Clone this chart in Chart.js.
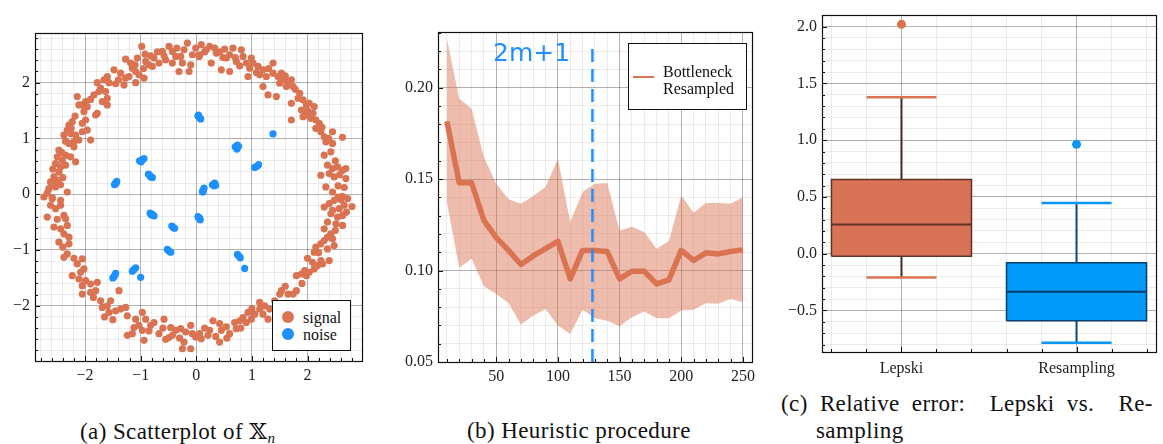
<!DOCTYPE html>
<html>
<head>
<meta charset="utf-8">
<script src="https://cdn.jsdelivr.net/npm/chart.js@4/dist/chart.umd.min.js"></script>
<style>
body { margin: 0; background: #fff; width: 1163px; height: 444px; position: relative; overflow: hidden; font-family: 'Liberation Serif', serif; color: #111; }
canvas { position: absolute; top: 0; display: block; }
.legend { position: absolute; box-sizing: border-box; background: #fff; border: 1.3px solid #111; font-size: 16px; }
.legend span { position: absolute; line-height: 16px; white-space: nowrap; }
.dot { position: absolute; width: 12px; height: 12px; border-radius: 50%; }
.cap { position: absolute; font-size: 23px; line-height: 26px; white-space: nowrap; letter-spacing: 0.4px; }
</style>
</head>
<body>
<canvas id="chartA" width="370" height="385" style="left:0"></canvas>
<canvas id="chartB" width="380" height="385" style="left:380px"></canvas>
<canvas id="chartC" width="393" height="385" style="left:770px"></canvas>

<div class="legend" style="left:272px;top:300px;width:79px;height:51px">
  <div class="dot" style="left:9px;top:10px;background:#D97352"></div><span style="left:30px;top:9px">signal</span>
  <div class="dot" style="left:9px;top:27px;background:#1E90FF"></div><span style="left:30px;top:26px">noise</span>
</div>
<div class="legend" style="left:628px;top:43px;width:119px;height:67px">
  <div style="position:absolute;left:4px;top:32px;width:21px;height:1.5px;background:#D97352"></div>
  <span style="left:34px;top:20px">Bottleneck</span>
  <span style="left:34px;top:37px">Resampled</span>
</div>
<div style="position:absolute;left:493px;top:40px;font-family:'DejaVu Sans',sans-serif;font-size:25px;line-height:25px;color:#1E90FF">2m+1</div>

<div class="cap" style="left:80px;top:418px">(a) Scatterplot of <span style="font-family:'DejaVu Serif','DejaVu Sans',serif">𝕏</span><span style="font-size:15px;position:relative;top:4px"><i>n</i></span></div>
<div class="cap" style="left:467px;top:418px">(b) Heuristic procedure</div>
<div class="cap" style="left:781px;top:391px;word-spacing:6px">(c) Relative error:&nbsp; Lepski vs.&nbsp; Re-</div>
<div class="cap" style="left:816px;top:418px">sampling</div>

<script>
// ---------- (a) scatterplot of X_n ----------
const signalPts = [
  [-0.98,2.65],[-1.27,2.42],[-1.06,2.44],[-0.92,2.51],[-0.82,2.48],[-0.76,2.44],[-0.91,2.38],[-0.85,2.32],[-1.10,2.32],[-1.15,2.26],
  [-1.09,2.20],[-1.03,2.14],[-1.21,2.11],[-1.27,2.08],[-0.94,2.08],[-1.09,2.00],[-1.30,1.96],[-1.45,1.98],[-1.48,2.23],[-1.60,2.11],
  [-1.66,2.05],[-1.57,2.00],[-1.78,2.00],[-0.61,2.56],[-0.49,2.65],[-0.43,2.56],[-0.55,2.41],[-0.43,2.35],[-0.31,2.20],[-0.37,2.47],
  [-0.28,2.47],[-0.22,2.59],[-0.16,2.71],[-0.07,2.50],[-0.01,2.62],[-0.13,2.20],[-0.10,2.32],[0.05,2.47],[-0.79,2.29],[-0.67,2.35],
  [-1.36,2.17],[-2.14,1.75],[-1.84,1.78],[-1.75,1.84],[-1.63,1.84],[-1.60,1.72],[-1.69,1.66],[-1.60,1.60],[-1.78,1.45],[-1.81,1.42],
  [-1.99,1.66],[-2.05,1.60],[-2.11,1.60],[-1.96,1.57],[-2.02,1.48],[-2.23,1.30],[-2.29,1.24],[-2.32,1.15],[-2.38,1.06],[-2.26,1.09],
  [-2.17,1.06],[-2.05,1.12],[-1.99,1.33],[-2.05,1.27],[-1.96,1.15],[-1.90,0.97],[-2.11,0.97],[-2.20,0.94],[-2.29,0.91],[-2.20,0.85],
  [-2.47,0.79],[-2.50,0.67],[-2.35,0.70],[-2.26,0.67],[-2.17,0.58],[-2.41,0.61],[-2.53,0.55],[-2.44,0.49],[-2.35,0.52],[-2.47,0.40],
  [-2.56,0.31],[-2.50,0.25],[-2.62,0.22],[-2.44,0.17],[-2.53,0.13],[-2.65,0.10],[-2.59,0.17],[-2.32,0.04],[-2.74,-0.05],[-2.59,-0.06],
  [-0.70,2.55],[-0.58,2.48],[-0.35,2.62],[-0.25,2.35],[-0.95,2.25],[-1.18,2.35],[-1.40,2.05],[-1.72,1.90],[-1.90,1.70],[-2.18,1.40],
  [-2.25,1.18],[-2.35,0.95],[-2.42,0.75],[-2.58,0.45],[-2.40,0.30],[-2.68,0.02],
  [0.09,2.68],[0.06,2.50],[0.18,2.59],[0.33,2.62],[0.36,2.53],[0.51,2.60],[0.66,2.62],[0.60,2.50],[0.54,2.44],[0.27,2.35],
  [0.45,2.23],[0.60,2.20],[0.72,2.38],[0.81,2.59],[0.84,2.47],[0.99,2.44],[0.90,2.35],[0.96,2.26],[0.93,2.11],[1.11,2.29],
  [1.20,2.23],[1.14,2.14],[1.26,2.11],[1.38,2.35],[1.38,2.17],[1.47,2.11],[1.53,2.17],[1.56,2.05],[1.65,2.02],[1.71,2.05],
  [1.74,1.93],[1.62,1.93],[1.50,1.99],[1.20,1.93],[1.29,1.78],[1.44,1.75],[1.71,1.63],[1.86,1.81],[1.92,1.69],[1.98,1.60],
  [1.89,1.51],[2.03,1.63],[2.12,1.57],[1.92,1.39],[1.98,1.42],[2.06,1.36],[1.71,1.33],[2.15,1.33],[2.21,1.27],[2.15,1.18],
  [2.24,1.12],[2.30,1.03],[2.45,1.12],[2.63,1.02],[2.33,0.94],[2.45,0.91],[2.42,0.76],[2.30,0.70],[2.36,0.52],[2.45,0.46],
  [2.54,0.49],[2.63,0.43],[2.69,0.46],[2.24,0.34],[2.39,0.37],[2.48,0.31],[2.69,0.28],[2.33,0.13],[2.45,0.04],[2.66,0.12],
  [2.63,-0.04],
  [0.15,2.55],[0.24,2.65],[0.42,2.55],[0.48,2.45],[0.70,2.45],[0.78,2.30],[1.02,2.35],[1.08,2.18],[1.30,2.25],[1.60,2.12],
  [1.78,1.88],[1.83,1.72],[2.00,1.50],[2.10,1.45],[2.26,1.20],[2.38,1.00],[2.50,0.60],[2.58,0.35],[2.55,0.15],[2.60,-0.10],
  [-2.59,-0.08],[-2.44,-0.11],[-2.62,-0.20],[-2.53,-0.26],[-2.68,-0.41],[-2.44,-0.20],[-2.38,-0.38],[-2.35,-0.44],[-2.56,-0.59],
  [-2.44,-0.62],[-2.32,-0.56],[-2.38,-0.71],[-2.29,-0.77],[-2.47,-0.86],[-2.29,-0.89],[-2.32,-1.07],[-2.38,-1.13],[-2.05,-1.16],
  [-2.14,-1.25],[-2.02,-1.34],[-2.23,-1.46],[-2.11,-1.52],[-1.99,-1.55],[-2.05,-1.64],[-1.90,-1.61],[-1.78,-1.58],[-1.81,-1.73],
  [-1.90,-1.76],[-2.05,-1.79],[-1.72,-1.91],[-1.69,-2.03],[-1.60,-2.00],[-1.54,-1.91],[-1.39,-1.73],[-1.45,-2.09],[-1.57,-2.12],
  [-1.36,-2.06],[-1.27,-2.03],[-1.24,-2.18],[-1.09,-2.24],[-1.12,-2.39],[-0.97,-2.12],[-0.91,-2.24],[-1.03,-2.35],[-0.97,-2.44],
  [-0.82,-2.35],[-0.76,-2.30],[-0.67,-2.50],[-0.58,-2.24],[-0.46,-2.39],[-0.37,-2.44],[-0.28,-2.41],[-0.19,-2.47],[-0.10,-2.35],
  [-0.07,-2.50],[-0.22,-2.65],[-0.01,-2.56],[-0.43,-2.53],[-1.24,-2.53],[-0.94,-2.62],[-0.25,-2.77],[-0.10,-2.77],[-0.49,-2.57],
  [-2.50,-0.45],[-2.40,-0.95],[-2.20,-1.15],[-2.08,-1.40],[-1.85,-1.85],[-1.65,-2.20],[-1.50,-2.25],[-1.15,-2.50],[-0.85,-2.45],
  [-0.55,-2.60],[-0.30,-2.58],[-0.60,-2.40],
  [0.06,-2.50],[0.09,-2.59],[0.21,-2.53],[0.24,-2.44],[0.30,-2.27],[0.42,-2.32],[0.45,-2.44],[0.42,-2.65],[0.54,-2.38],[0.60,-2.50],
  [0.69,-2.30],[0.72,-2.41],[0.78,-2.27],[0.84,-2.21],[0.93,-2.12],[0.90,-2.30],[0.99,-2.24],[1.05,-2.15],[1.14,-2.06],[1.14,-1.94],
  [1.23,-2.00],[1.32,-2.06],[1.41,-1.91],[1.29,-2.24],[1.50,-1.79],[1.53,-1.73],[1.65,-1.79],[1.74,-1.79],[1.80,-1.73],[1.80,-1.46],
  [1.89,-1.43],[1.95,-1.37],[1.98,-1.46],[2.03,-1.40],[2.09,-1.22],[2.12,-1.34],[2.18,-1.28],[2.27,-1.25],[2.24,-1.19],[2.39,-1.19],
  [2.12,-1.04],[2.15,-0.95],[2.24,-0.89],[2.30,-0.83],[2.36,-0.77],[2.42,-0.71],[2.36,-0.98],[2.48,-0.92],[2.45,-0.80],[2.36,-0.50],
  [2.51,-0.53],[2.63,-0.56],[2.30,-0.23],[2.39,-0.17],[2.48,-0.11],[2.45,-0.29],[2.57,-0.26],[2.66,-0.20],[2.72,-0.08],[2.63,-0.38],
  [2.54,-0.41],[2.80,-0.22],
  [0.15,-2.40],[0.35,-2.55],[0.55,-2.58],[0.80,-2.40],[1.00,-2.05],[1.20,-2.15],[1.60,-1.65],[1.90,-1.60],[2.00,-1.15],[2.20,-1.05],
  [2.30,-0.62],[2.50,-0.65],[2.42,-0.35],[2.55,-0.05],[2.70,-0.32]
];
const noisePts = [
  [0.03,1.40],[0.06,1.37],[0.08,1.35],[0.04,1.42],[1.38,1.08],
  [0.70,0.85],[0.74,0.88],[0.73,0.81],[0.76,0.86],[1.05,0.48],[1.09,0.50],[1.12,0.53],
  [-1.02,0.60],[-0.97,0.62],[-0.94,0.64],[-0.99,0.58],[-0.86,0.36],[-0.83,0.33],[-0.79,0.30],[-0.82,0.31],
  [-1.47,0.17],[-1.44,0.20],[-1.43,0.23],[-1.46,0.19],[0.11,0.05],[0.13,0.08],[0.14,0.11],[0.12,0.04],
  [0.29,0.17],[0.33,0.20],[0.35,0.16],[0.32,0.15],[-0.83,-0.34],[-0.79,-0.36],[-0.76,-0.39],[-0.81,-0.37],
  [0.03,-0.40],[0.06,-0.43],[0.07,-0.46],[0.04,-0.42],[-0.44,-0.57],[-0.41,-0.60],[-0.39,-0.61],
  [-0.52,-0.99],[-0.49,-1.02],[-0.46,-1.04],[0.74,-1.08],[0.77,-1.11],[0.79,-1.14],[0.87,-1.33],
  [-1.15,-1.38],[-1.12,-1.35],[-1.09,-1.32],[-1.13,-1.36],[-1.50,-1.50],[-1.47,-1.46],[-1.45,-1.42],[-1.48,-1.48],
  [-1.00,-1.49]
];

// ---------- (b) heuristic procedure ----------
const sampleSizes = [10, 20, 30, 40, 50, 60, 70, 80, 90, 100, 110, 120, 130, 140, 150, 160, 170, 180, 190, 200, 210, 220, 230, 240, 250];
const bottleneckMean = [0.1816, 0.148, 0.148, 0.1274, 0.118, 0.111, 0.1033, 0.108, 0.112, 0.116, 0.0954, 0.111, 0.111,
  0.1104, 0.0954, 0.0996, 0.0996, 0.0927, 0.0949, 0.111, 0.1055, 0.1097, 0.1091, 0.1104, 0.1113];
const bandUpper = [0.2268, 0.194, 0.1885, 0.162, 0.1474, 0.139, 0.1365, 0.1407, 0.1456, 0.161, 0.1265, 0.1429, 0.1474,
  0.1478, 0.1219, 0.124, 0.121, 0.1119, 0.1161, 0.141, 0.1316, 0.1369, 0.1369, 0.1365, 0.1401];
const bandLower = [0.1374, 0.1015, 0.1064, 0.0914, 0.0872, 0.0823, 0.0703, 0.0754, 0.079, 0.0699, 0.0653, 0.0785, 0.0739,
  0.0726, 0.0695, 0.0745, 0.0776, 0.0739, 0.0739, 0.0781, 0.0785, 0.0821, 0.0818, 0.0845, 0.0827];
const cutoff = 128;   // 2m+1

// ---------- (c) relative error ----------
const methods = ['Lepski', 'Resampling'];
const whiskerLow = [-0.21, -0.784];
const q1 = [-0.023, -0.59];
const median = [0.256, -0.335];
const q3 = [0.653, -0.08];
const whiskerHigh = [1.377, 0.447];
const outliers = [[2.02], [0.963]];

const ORANGE = '#D97352';
const BLUE = '#009AFA';
const MAJOR_GRID = 'rgba(0,0,0,0.3)';
const MINOR_GRID = 'rgba(0,0,0,0.075)';

Chart.defaults.font.family = "'Liberation Serif', serif";
Chart.defaults.font.size = 16;
Chart.defaults.color = '#222';

const isMult = (v, m) => Math.abs(v / m - Math.round(v / m)) < 1e-6;
const minus = s => s.replace('-', '\u2212');

// axis with minor grid: only the multiples of `major` get a label
function axis(min, max, step, major, fmt, fit) {
  return {
    type: 'linear', min: min, max: max,
    afterFit: fit,
    border: { display: false },
    grid: {
      drawTicks: false,
      color: c => (c.tick && isMult(c.tick.value, major)) ? MAJOR_GRID : MINOR_GRID
    },
    ticks: {
      stepSize: step, includeBounds: false, autoSkip: false, maxRotation: 0, padding: 5,
      callback: v => isMult(v, major) ? minus(fmt(v)) : ''
    }
  };
}

// black frame + short ticks pointing inwards
const framePlugin = {
  id: 'frame',
  afterDraw(chart) {
    const { ctx, chartArea: a } = chart;
    ctx.save();
    ctx.strokeStyle = '#111';
    ctx.lineWidth = 1;
    ctx.beginPath();
    chart.scales.x.ticks.forEach(t => {
      const px = Math.round(chart.scales.x.getPixelForValue(t.value)) + 0.5;
      const len = t.label !== '' ? 5 : 3;
      ctx.moveTo(px, a.bottom); ctx.lineTo(px, a.bottom - len);
    });
    chart.scales.y.ticks.forEach(t => {
      const py = Math.round(chart.scales.y.getPixelForValue(t.value)) + 0.5;
      const len = t.label !== '' ? 5 : 3;
      ctx.moveTo(a.left, py); ctx.lineTo(a.left + len, py);
    });
    ctx.stroke();
    ctx.lineWidth = 1.2;
    ctx.strokeRect(Math.round(a.left) + 0.5, Math.round(a.top) + 0.5, Math.round(a.width), Math.round(a.height));
    ctx.restore();
  }
};

const common = {
  responsive: false,
  animation: false,
  events: [],
  plugins: { legend: { display: false }, tooltip: { enabled: false } }
};

// (a)
new Chart(document.getElementById('chartA'), {
  type: 'scatter',
  data: {
    datasets: [
      { label: 'noise', data: noisePts.map(p => ({ x: p[0], y: p[1] })), backgroundColor: '#1E90FF', borderWidth: 0, pointRadius: 3.6 },
      { label: 'signal', data: signalPts.map(p => ({ x: p[0], y: p[1] })), backgroundColor: ORANGE, borderWidth: 0, pointRadius: 3.6 }
    ]
  },
  options: Object.assign({}, common, {
    layout: { padding: { top: 33, right: 8, left: 0, bottom: 0 } },
    scales: {
      x: axis(-2.9, 2.98, 0.2, 1, v => String(Math.round(v)), s => { s.height = 24; }),
      y: axis(-2.99, 2.89, 0.2, 1, v => String(Math.round(v)), s => { s.width = 35; })
    }
  }),
  plugins: [framePlugin]
});

// (b)
const pts = arr => sampleSizes.map((x, i) => ({ x: x, y: arr[i] }));
new Chart(document.getElementById('chartB'), {
  type: 'line',
  data: {
    datasets: [
      { label: '2m+1', data: [{ x: cutoff, y: 0.05 }, { x: cutoff, y: 0.225 }], borderColor: '#1E90FF', borderWidth: 2.5,
        borderDash: [13, 7], pointRadius: 0, fill: false, order: 0 },
      { label: 'Bottleneck Resampled', data: pts(bottleneckMean), borderColor: ORANGE, borderWidth: 5.5, pointRadius: 0,
        fill: false, tension: 0, borderJoinStyle: 'round', order: 1 },
      { label: 'upper', data: pts(bandUpper), borderWidth: 0, pointRadius: 0, fill: '+1',
        backgroundColor: 'rgba(217,115,82,0.48)', order: 2 },
      { label: 'lower', data: pts(bandLower), borderWidth: 0, pointRadius: 0, fill: false, order: 3 }
    ]
  },
  options: Object.assign({}, common, {
    layout: { padding: { top: 32, right: 3, left: 0, bottom: 0 } },
    scales: {
      x: axis(2.8, 257.2, 10, 50, v => String(Math.round(v)), s => { s.height = 23; }),
      y: axis(0.05, 0.2304, 0.01, 0.05, v => v.toFixed(2), s => { s.width = 58; })
    }
  }),
  plugins: [framePlugin]
});

// (c) box plots built from the summary statistics
const BOX_HALF = 0.4, CAP_HALF = 0.2;
const boxStyle = [
  { fill: '#D97356', edge: '#5e3326', whisker: '#4a281e', cap: ORANGE, point: ORANGE },
  { fill: '#009AFA', edge: '#0b3f6b', whisker: '#0b4a7a', cap: '#0a96f5', point: '#0a96f5' }
];
const boxSets = [];
methods.forEach((m, i) => {
  const c = i + 0.5, st = boxStyle[i];
  const seg = (x0, y0, x1, y1, color, w) => ({ data: [{ x: x0, y: y0 }, { x: x1, y: y1 }], borderColor: color,
    borderWidth: w, pointRadius: 0, fill: false });
  boxSets.push({ label: m + ' outlier', data: outliers[i].map(v => ({ x: c, y: v })), showLine: false,
    pointRadius: 4.5, backgroundColor: st.point, borderWidth: 0 });
  boxSets.push(seg(c - BOX_HALF, median[i], c + BOX_HALF, median[i], st.edge, 2));
  boxSets.push({ label: m, data: [{ x: c - BOX_HALF, y: q1[i] }, { x: c + BOX_HALF, y: q1[i] }, { x: c + BOX_HALF, y: q3[i] },
    { x: c - BOX_HALF, y: q3[i] }, { x: c - BOX_HALF, y: q1[i] }], fill: 'shape', backgroundColor: st.fill,
    borderColor: st.edge, borderWidth: 1.5, pointRadius: 0 });
  boxSets.push(seg(c - CAP_HALF, whiskerHigh[i], c + CAP_HALF, whiskerHigh[i], st.cap, 2.5));
  boxSets.push(seg(c - CAP_HALF, whiskerLow[i], c + CAP_HALF, whiskerLow[i], st.cap, 2.5));
  boxSets.push(seg(c, q3[i], c, whiskerHigh[i], st.whisker, 2));
  boxSets.push(seg(c, whiskerLow[i], c, q1[i], st.whisker, 2));
});

const xC = axis(0.046, 1.954, 0.2, 1, v => '', s => { s.height = 33; });
xC.afterBuildTicks = s => {
  const t = [];
  methods.forEach((m, i) => { for (let k = -2; k <= 2; k++) t.push({ value: i + 0.5 + k * 0.2 }); });
  s.ticks = t;
};
xC.grid.color = c => (c.tick && isMult(c.tick.value - 0.5, 1)) ? MAJOR_GRID : MINOR_GRID;
xC.ticks.callback = v => { const i = methods.findIndex((m, j) => Math.abs(v - (j + 0.5)) < 1e-6); return i >= 0 ? methods[i] : ''; };
xC.ticks.padding = 7;

new Chart(document.getElementById('chartC'), {
  type: 'line',
  data: { datasets: boxSets },
  options: Object.assign({}, common, {
    layout: { padding: { top: 3, right: 7, left: 0, bottom: 0 } },
    scales: {
      x: xC,
      y: axis(-0.866, 2.106, 0.1, 0.5, v => v.toFixed(1), s => { s.width = 52; })
    }
  }),
  plugins: [framePlugin]
});
</script>
</body>
</html>
